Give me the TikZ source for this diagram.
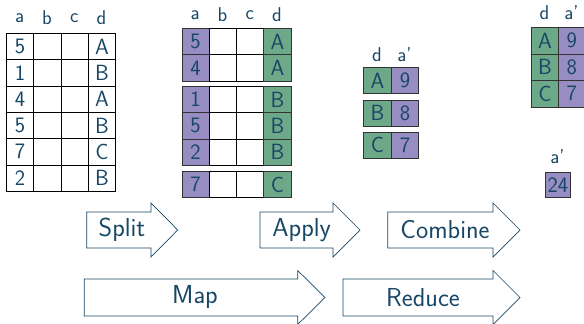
\documentclass[tikz,border=0pt]{standalone}
\usepackage{xcolor}
\definecolor{txt}{HTML}{174766}
\definecolor{pur}{HTML}{978DC3}
\definecolor{grn}{HTML}{6DA888}
\begin{document}
\begin{tikzpicture}[x=1pt,y=-1pt,
  cell/.style={draw=black,line width=0.8pt,minimum width=27.3pt,minimum height=26.3pt,inner sep=0pt,anchor=north west,text=txt,font=\fontsize{22}{23}\sffamily},
  cp/.style={cell,fill=pur,draw=black!80},
  cg/.style={cell,fill=grn,draw=black!80},
  hd/.style={text=txt,font=\fontsize{20}{21}\sffamily,inner sep=0pt},
  arr/.style={draw=txt,line width=0.7pt,fill=white},
  lbl/.style={text=txt,font=\fontsize{26}{28}\sffamily,inner sep=0pt}]
\useasboundingbox (0,0) rectangle (584,324);
% ---------- table 1 ----------
\foreach \h [count=\i from 0] in {a,b,c,d}
  \node[hd] (h1\h) at (6+13.65+27.3*\i,18) {\h};
\foreach \va/\vd [count=\r from 0] in {5/A,1/B,4/A,5/B,7/C,2/B}{
  \node[cell] (t1a\r) at (6,33+26.3*\r) {\va};
  \node[cell] (t1b\r) at (33.3,33+26.3*\r) {};
  \node[cell] (t1c\r) at (60.6,33+26.3*\r) {};
  \node[cell] (t1d\r) at (87.9,33+26.3*\r) {\vd};
}
% ---------- table 2 ----------
\foreach \h [count=\i from 0] in {a,b,c,d}
  \node[hd] (h2\h) at (181.5+13.65+27.3*\i,15) {\h};
\foreach \va/\vd/\yy [count=\r from 0] in {5/A/28,4/A/54.3,1/B/86,5/B/112.3,2/B/138.6,7/C/171}{
  \node[cp] (t2a\r) at (181.5,\yy) {\va};
  \node[cell] (t2b\r) at (208.8,\yy) {};
  \node[cell] (t2c\r) at (236.1,\yy) {};
  \node[cg] (t2d\r) at (263.4,\yy) {\vd};
}
% ---------- table 3 ----------
\node[hd] (h3d) at (377,55) {d};
\node[hd] (h3a) at (404.5,55) {a'};
\foreach \vd/\va/\yy [count=\r from 0] in {A/9/67,B/8/99.5,C/7/131.5}{
  \node[cg,minimum width=27.7pt,minimum height=26pt] (t3d\r) at (363.2,\yy) {\vd};
  \node[cp,minimum width=27.3pt,minimum height=26pt] (t3a\r) at (390.9,\yy) {\va};
}
% ---------- table 4 ----------
\node[hd] (h4d) at (544.5,13) {d};
\node[hd] (h4a) at (571.5,13) {a'};
\foreach \vd/\va [count=\r from 0] in {A/9,B/8,C/7}{
  \node[cg,minimum width=27pt,minimum height=26.5pt] (t4d\r) at (531,27+26.5*\r) {\vd};
  \node[cp,minimum width=27pt,minimum height=26.5pt] (t4a\r) at (558,27+26.5*\r) {\va};
}
\node[hd] (h5a) at (557.5,157) {a'};
\node[cp,minimum width=25pt,minimum height=25.5pt] (t5) at (545,171.5) {24};
% ---------- arrows ----------
\draw[arr] (86.7,212) -- (151,212) -- (151,203) -- (177.7,230) -- (151,257) -- (151,248) -- (86.7,248) -- cycle;
\node[lbl] (split) at (122,230) {Split};
\draw[arr] (260,212) -- (333,212) -- (333,203) -- (360,230) -- (333,257) -- (333,248) -- (260,248) -- cycle;
\node[lbl] (apply) at (301.7,230) {Apply};
\draw[arr] (387.7,212) -- (493,212) -- (493,203) -- (520,230) -- (493,257) -- (493,248) -- (387.7,248) -- cycle;
\node[lbl] (combine) at (445,230) {Combine};
\draw[arr] (84.3,279) -- (297.7,279) -- (297.7,270.5) -- (325,297.5) -- (297.7,324.5) -- (297.7,316) -- (84.3,316) -- cycle;
\node[lbl] (map) at (195,297.5) {Map};
\draw[arr] (343,279) -- (493,279) -- (493,270.5) -- (520,297.5) -- (493,324.5) -- (493,316) -- (343,316) -- cycle;
\node[lbl] (reduce) at (423,297.5) {Reduce};
\end{tikzpicture}
\end{document}
